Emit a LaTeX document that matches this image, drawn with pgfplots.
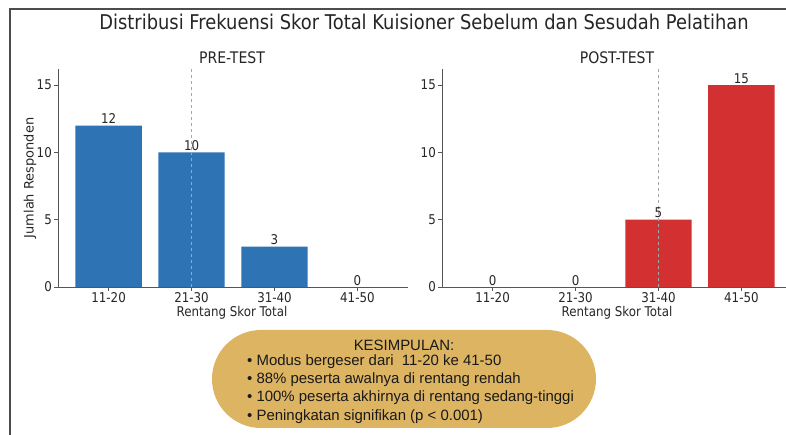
\documentclass[border=0pt]{standalone}
\usepackage{pgfplots}
\pgfplotsset{compat=1.18}
\usepackage{fontspec}
\setmainfont{DejaVu Sans}
\newfontfamily\sq[FakeStretch=0.88]{DejaVu Sans}
\newfontfamily\ar{Liberation Sans}
\definecolor{barblue}{HTML}{2E74B5}
\definecolor{barred}{HTML}{D33131}
\definecolor{pill}{HTML}{DDB462}
\definecolor{spine}{HTML}{555555}
\pgfplotsset{
  panel/.style={
    scale only axis, width=350bp, height=218bp,
    anchor=south west,
    xmin=-0.61, xmax=3.61, ymin=0, ymax=16.2,
    axis lines=left, axis line style={-, spine, line width=0.9bp},
    xtick={0,1,2,3}, xticklabels={11-20,21-30,31-40,41-50},
    ytick={0,5,10,15},
    tick align=outside, major tick length=4bp,
    tick style={spine, line width=0.9bp},
    /pgf/number format/assume math mode=true,
    tick label style={font=\sq\fontsize{13.5}{15}\selectfont, text=black!85},
    xticklabel style={inner sep=1.5bp},
    yticklabel style={inner sep=2bp},
    ybar, bar width=0.8, bar shift=0pt,
    nodes near coords,
    nodes near coords style={font=\sq\fontsize{13.5}{15}\selectfont, text=black!85, inner sep=1.5bp, anchor=south},
    clip=false,
  }
}
\begin{document}
\begin{tikzpicture}
\path[use as bounding box] (0,0) rectangle (786bp,435bp);
\fill[white] (0,0) rectangle (786bp,435bp);
\draw[line width=1.6bp, black!70] (10bp,-20bp) |- (820bp,426bp);
\node[font=\sq\fontsize{20.4}{23}\selectfont, text=black!85] at (424bp,413bp) {Distribusi Frekuensi Skor Total Kuisioner Sebelum dan Sesudah Pelatihan};
% PRE-TEST
\begin{axis}[panel, at={(58bp,148bp)}]
\addplot[fill=barblue, draw=none, bar shift=0pt] coordinates {(0,12) (1,10) (2,3)};
\addplot[fill=none, draw=none, bar shift=0pt] coordinates {(3,0)};
\addplot[no markers, nodes near coords={}, draw=gray!70, dashed, line width=0.9bp, sharp plot] coordinates {(1,0) (1,16.2)};
\end{axis}
% POST-TEST
\begin{axis}[panel, at={(442bp,148bp)}]
\addplot[fill=barred, draw=none, bar shift=0pt] coordinates {(2,5) (3,15)};
\addplot[fill=none, draw=none, bar shift=0pt] coordinates {(0,0) (1,0)};
\addplot[no markers, nodes near coords={}, draw=gray!70, dashed, line width=0.9bp, sharp plot] coordinates {(2,0) (2,16.2)};
\end{axis}
\node[font=\sq\fontsize{16}{18}\selectfont, text=black!85] at (232bp,377bp) {PRE-TEST};
\node[font=\sq\fontsize{16}{18}\selectfont, text=black!85] at (617bp,377bp) {POST-TEST};
\node[font=\sq\fontsize{13.5}{15}\selectfont, text=black!85] at (232bp,122bp) {Rentang Skor Total};
\node[font=\sq\fontsize{13.5}{15}\selectfont, text=black!85] at (617bp,122bp) {Rentang Skor Total};
\node[font=\fontsize{13}{15}\selectfont, text=black!85, rotate=90] at (30bp,257bp) {Jumlah Responden};
% conclusion pill
\fill[pill, rounded corners=49bp] (212bp,7bp) rectangle (596bp,105bp);
\node[font=\ar\fontsize{15}{17}\selectfont, text=black!90] at (404bp,90bp) {KESIMPULAN:};
\begin{scope}[every node/.style={font=\ar\fontsize{15}{17}\selectfont, text=black!90, anchor=west, inner sep=0pt}]
\node at (247bp,73bp) {•\ Modus bergeser dari\ \ 11-20 ke 41-50};
\node at (247bp,55bp) {•\ 88\% peserta awalnya di rentang rendah};
\node at (247bp,37bp) {•\ 100\% peserta akhirnya di rentang sedang-tinggi};
\node at (247bp,18bp) {•\ Peningkatan signifikan (p < 0.001)};
\end{scope}
\end{tikzpicture}
\end{document}
